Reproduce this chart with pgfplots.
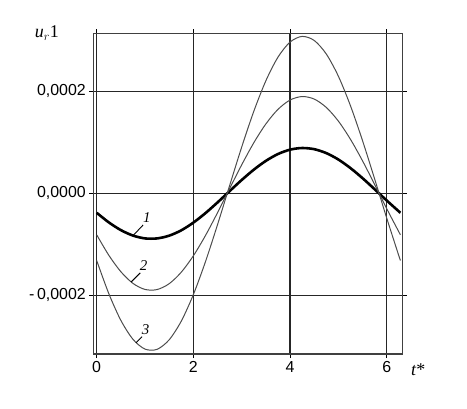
\documentclass[border=0pt]{standalone}
\usepackage{fontspec}
\setmainfont{Liberation Serif}
\newfontfamily\arial{Liberation Sans}
\usepackage{pgfplots}
\pgfplotsset{compat=1.18}

\begin{document}
\begin{tikzpicture}
\useasboundingbox (-93.3bp,-55bp) rectangle (373.7bp,354bp);
\begin{axis}[
    at={(0,0)}, anchor=south west,
    scale only axis,
    width=309.4bp, height=320.7bp,
    xmin=-0.07, xmax=6.33,
    ymin=-3.15, ymax=3.14,
    xtick={0,2,4,6},
    xticklabels={0,2,4,6},
    ytick={-2,0,2},
    yticklabels={-\,0{,}0002, 0{,}0000, 0{,}0002},
    tick label style={font=\arial\fontsize{16}{17}\selectfont},
    tick align=outside,
    major tick length=4bp,
    tick style={black, line width=1pt},
    grid=major,
    major grid style={black!85, line width=1.4pt},
    axis line style={black!75, line width=1.2pt},
    clip=false,
]
% curve 1 (thick)
\addplot[black, line width=2.6pt, smooth] coordinates {
(0,-0.380) (0.25,-0.568) (0.5,-0.720) (0.75,-0.827) (1.0,-0.883)
(1.25,-0.883) (1.5,-0.829) (1.75,-0.724) (2.0,-0.573) (2.25,-0.387)
(2.5,-0.177) (2.75,0.045) (3.0,0.263) (3.25,0.465) (3.5,0.638)
(3.75,0.772) (4.0,0.858) (4.25,0.890) (4.5,0.867) (4.75,0.790)
(5.0,0.664) (5.25,0.496) (5.5,0.298) (5.75,0.081) (6.0,-0.140)
(6.25,-0.353) (6.2832,-0.380)
};
% curve 2
\addplot[black!70, line width=1pt, smooth] coordinates {
(0,-0.812) (0.25,-1.212) (0.5,-1.536) (0.75,-1.765) (1.0,-1.884)
(1.25,-1.886) (1.5,-1.771) (1.75,-1.545) (2.0,-1.224) (2.25,-0.827)
(2.5,-0.378) (2.75,0.095) (3.0,0.561) (3.25,0.993) (3.5,1.363)
(3.75,1.648) (4.0,1.831) (4.25,1.900) (4.5,1.850) (4.75,1.686)
(5.0,1.417) (5.25,1.060) (5.5,0.637) (5.75,0.174) (6.0,-0.300)
(6.25,-0.754) (6.2832,-0.812)
};
% curve 3
\addplot[black!70, line width=1pt, smooth] coordinates {
(0,-1.316) (0.25,-1.964) (0.5,-2.490) (0.75,-2.861) (1.0,-3.054)
(1.25,-3.058) (1.5,-2.871) (1.75,-2.505) (2.0,-1.984) (2.25,-1.340)
(2.5,-0.612) (2.75,0.154) (3.0,0.910) (3.25,1.610) (3.5,2.210)
(3.75,2.672) (4.0,2.968) (4.25,3.079) (4.5,2.999) (4.75,2.733)
(5.0,2.297) (5.25,1.718) (5.5,1.032) (5.75,0.282) (6.0,-0.486)
(6.25,-1.223) (6.2832,-1.316)
};
% curve labels with leaders
\draw[black, line width=0.9pt] (axis cs:0.75,-0.83) -- (axis cs:0.96,-0.62);
\node[font=\itshape\fontsize{15}{15}\selectfont] at (axis cs:1.04,-0.47) {1};
\draw[black, line width=0.9pt] (axis cs:0.71,-1.74) -- (axis cs:0.90,-1.56);
\node[font=\itshape\fontsize{15}{15}\selectfont] at (axis cs:0.97,-1.42) {2};
\draw[black, line width=0.9pt] (axis cs:0.81,-2.93) -- (axis cs:0.94,-2.81);
\node[font=\itshape\fontsize{15}{15}\selectfont] at (axis cs:1.01,-2.67) {3};
% axis names
\node[font=\fontsize{18}{18}\selectfont] at (rel axis cs:-0.15,1.0) {\textit{u}$_{r}$1};
\node[font=\fontsize{18}{18}\selectfont] at (rel axis cs:1.05,-0.05) {\textit{t}*};
\end{axis}
\end{tikzpicture}
\end{document}
